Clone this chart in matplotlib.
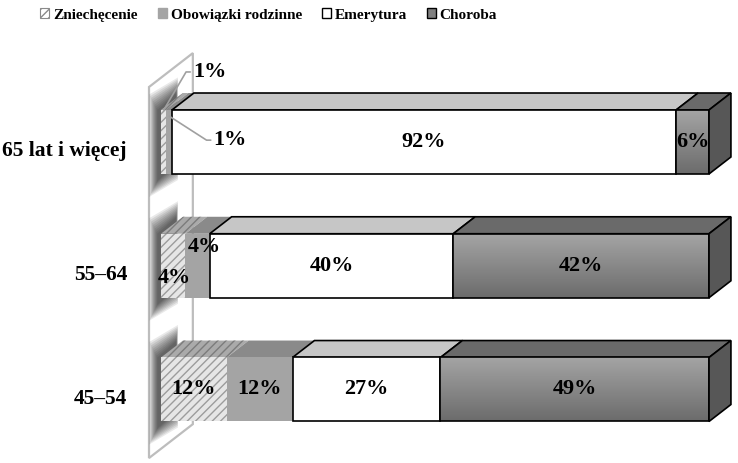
import numpy as np
import matplotlib.pyplot as plt
from matplotlib.patches import Polygon, Patch
from matplotlib.colors import LinearSegmentedColormap

# data
categories = ['45–54', '55–64', '65 lat i więcej']
series = ['Zniechęcenie', 'Obowiązki rodzinne', 'Emerytura', 'Choroba']
zniechecenie = [12, 4, 1]
obowiazki = [12, 4, 1]
emerytura = [27, 40, 92]
choroba = [49, 42, 6]

values = np.array([zniechecenie, obowiazki, emerytura, choroba], dtype=float).T
shares = values / values.sum(axis=1, keepdims=True) * 100   # 100% stacked

# style
serif = dict(family='Liberation Serif', weight='bold')
front_col = ['#e6e6e6', '#a4a4a4', '#ffffff', '#888888']
top_col = ['#aaaaaa', '#8a8a8a', '#c6c6c6', '#6a6a6a']
side_col = '#575757'
hatch_col = ['#9c9c9c', '#7c7c7c']
outlined = [False, False, True, True]
grad = LinearSegmentedColormap.from_list('g', ['#a4a4a4', '#6c6c6c'])

bar_h = 0.517
dx, dy = 4.0, 0.137          # 3d depth offset (data units)

fig = plt.figure(figsize=(7.38, 4.63), dpi=100)
ax = fig.add_axes([0, 0, 1, 1])
ax.axis('off')

# back wall
wx, wy0, wy1 = -2.19, -0.554, 2.444
wall = Polygon([(wx, wy0), (wx, wy1), (wx + 2 * dx, wy1 + 2 * dy), (wx + 2 * dx, wy0 + 2 * dy)],
               closed=True, facecolor='white', edgecolor='#bdbdbd', lw=1.6, zorder=0)
ax.add_patch(wall)

for yi in range(len(categories)):
    y0 = yi - bar_h / 2
    y1 = yi + bar_h / 2
    # soft shadow on the wall
    for k in range(10):
        g = k * 0.16
        gy = k * 0.014
        sh = [(-0.7 - g, y0 - 0.06 - gy), (-0.7 - g, y1 + gy), (dx - 1.2 + g * 0.2, y1 + dy + gy),
              (dx - 1.2 + g * 0.2, y0 + dy - 0.06 - gy)]
        ax.add_patch(Polygon(sh, closed=True, facecolor='black', edgecolor='none',
                             alpha=0.085, zorder=1))

    left = 0.0
    for si in range(len(series)):
        w = shares[yi, si]
        x0, x1 = left, left + w
        ec = 'black' if outlined[si] else 'none'
        # top face
        tp = Polygon([(x0, y1), (x1, y1), (x1 + dx, y1 + dy), (x0 + dx, y1 + dy)], closed=True,
                     facecolor=top_col[si], edgecolor=ec, lw=1.2, zorder=2)
        if si == 0:
            tp.set_hatch('////')
            tp.set_edgecolor(hatch_col[1])
            tp.set_linewidth(0)
        ax.add_patch(tp)
        # front face
        if si == 3:
            ax.imshow(np.linspace(0, 1, 60).reshape(-1, 1), extent=[x0, x1, y0, y1],
                      cmap=grad, aspect='auto', zorder=3)
            fr = Polygon([(x0, y0), (x0, y1), (x1, y1), (x1, y0)], closed=True,
                         facecolor='none', edgecolor='black', lw=1.2, zorder=4)
        else:
            fr = Polygon([(x0, y0), (x0, y1), (x1, y1), (x1, y0)], closed=True,
                         facecolor=front_col[si], edgecolor=ec, lw=1.2, zorder=3)
            if si == 0:
                fr.set_hatch('////')
                fr.set_edgecolor(hatch_col[0])
                fr.set_linewidth(0)
        ax.add_patch(fr)
        left = x1
    # right end face
    ax.add_patch(Polygon([(100, y0), (100, y1), (100 + dx, y1 + dy), (100 + dx, y0 + dy)],
                         closed=True, facecolor=side_col, edgecolor='black', lw=1.2, zorder=4))

    ax.text(-6.2, yi - 0.075, categories[yi], ha='right', va='center', fontsize=15.5, **serif)

# data labels (pixel offsets where labels were moved by hand)
offsets = {(1, 0): (1, -12), (1, 1): (7, 19)}
leaders = {(2, 0): (46, 38), (2, 1): (61, -24)}
for yi in range(len(categories)):
    left = 0.0
    for si in range(len(series)):
        w = shares[yi, si]
        cx = left + w / 2
        lab = f'{values[yi, si]:.0f}%'
        if (yi, si) in leaders:
            ox, oy = leaders[(yi, si)]
            ax.annotate(lab, xy=(cx, yi + bar_h / 2 - (0.0 if si == 0 else 0.05)),
                        xytext=(ox, oy), textcoords='offset pixels', ha='center', va='center',
                        fontsize=16, zorder=6,
                        arrowprops=dict(arrowstyle='-', color='#a0a0a0', lw=1.2,
                                        shrinkA=0, shrinkB=0, relpos=(0, 0.5),
                                        connectionstyle='arc,angleA=180,armA=7,angleB=0,armB=0,rad=0'),
                        **serif)
        else:
            ox, oy = offsets.get((yi, si), (0, 0))
            ax.annotate(lab, xy=(cx, yi), xytext=(ox, oy), textcoords='offset pixels',
                        ha='center', va='center', fontsize=16, zorder=6, **serif)
        left += w

ax.set_xlim(-29.38, 105.29)
ax.set_ylim(-0.594, 3.147)

handles = [Patch(facecolor='white', edgecolor='#8a8a8a', hatch='////', lw=0.8),
           Patch(facecolor='#a4a4a4', edgecolor='#a4a4a4'),
           Patch(facecolor='white', edgecolor='black', lw=1),
           Patch(facecolor='#808080', edgecolor='black', lw=1)]
fig.legend(handles, series, loc='center', bbox_to_anchor=(0.364, 1 - 15 / 463), ncol=4,
           frameon=False, prop=dict(size=11, **serif), handlelength=0.6, handleheight=0.6,
           handletextpad=0.25, columnspacing=1.3, borderaxespad=0)

fig.savefig('out.png', dpi=100)
